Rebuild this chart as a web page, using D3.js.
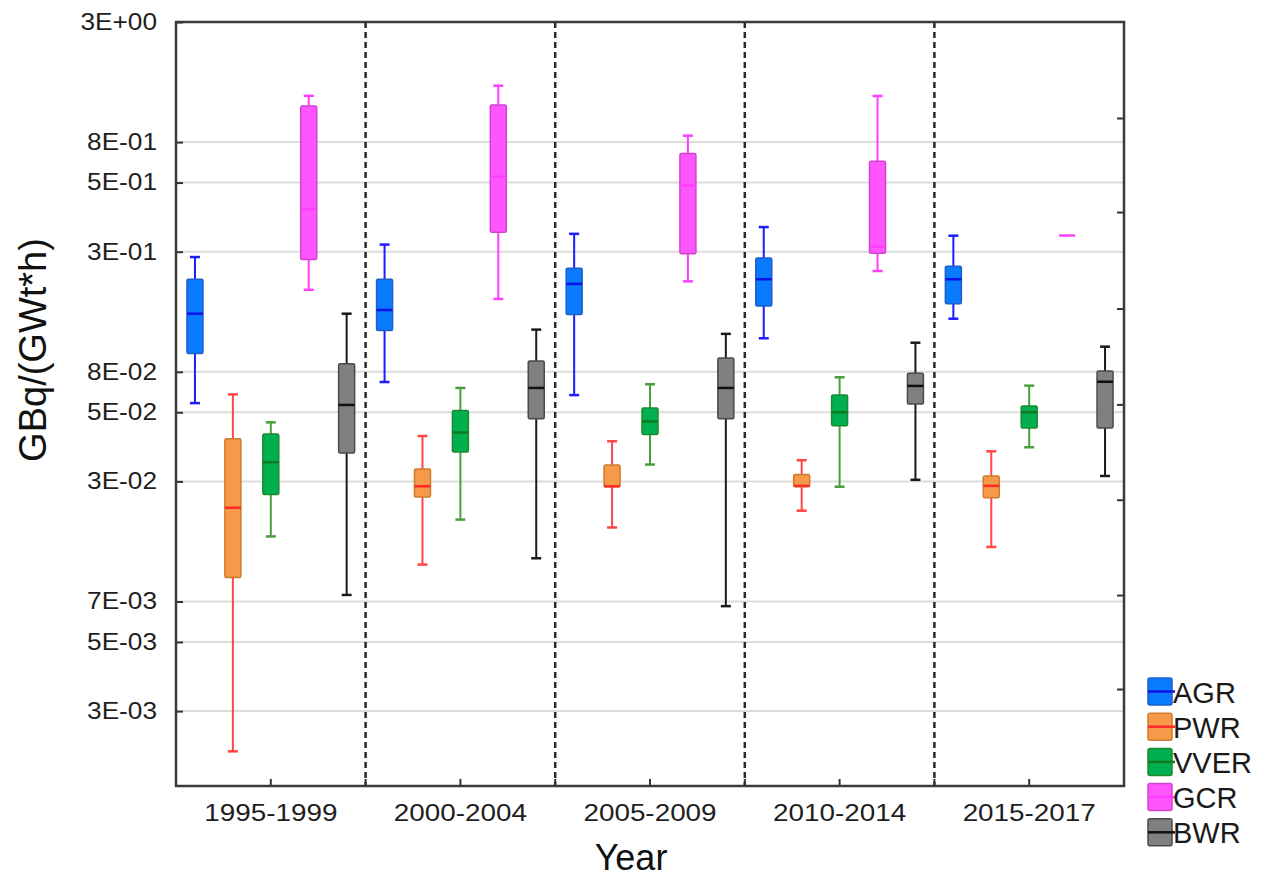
<!DOCTYPE html>
<html><head><meta charset="utf-8">
<script src="https://cdn.jsdelivr.net/npm/d3@7"></script>
<style>body{margin:0;background:#fff}svg{display:block}</style>
</head><body><svg id="c" width="1263" height="881"></svg>
<script>
// ---------- data ----------
const periods = ["1995-1999","2000-2004","2005-2009","2010-2014","2015-2017"];
const reactors = ["AGR","PWR","VVER","GCR","BWR"];
// each entry: [whiskerLow, q1, median, q3, whiskerHigh]  (GBq/(GWt*h))
const agrStats  = [[0.0548,0.0900,0.1343,0.1896,0.237],[0.0677,0.1136,0.1393,0.1896,0.2685],[0.0594,0.1331,0.1811,0.2119,0.299],[0.1050,0.1450,0.1896,0.2347,0.320],[0.1277,0.1484,0.1896,0.216,0.2935]];
const pwrStats  = [[0.00167,0.00955,0.0192,0.0383,0.0598],[0.01086,0.0214,0.0238,0.0283,0.0394],[0.01575,0.0237,0.0238,0.0295,0.0374],[0.01864,0.0237,0.0239,0.0268,0.0309],[0.01296,0.0212,0.0239,0.0264,0.0338]];
const vverStats = [[0.0144,0.0219,0.0303,0.0402,0.0452],[0.01705,0.0336,0.0408,0.0509,0.0638],[0.0296,0.0400,0.0456,0.0522,0.0662],[0.0237,0.0437,0.0500,0.0594,0.0710],[0.0352,0.0427,0.0500,0.0532,0.0653]];
const gcrStats  = [[0.1706,0.231,0.383,1.078,1.193],[0.1557,0.304,0.530,1.088,1.320],[0.1857,0.245,0.485,0.669,0.800],[0.206,0.246,0.263,0.619,1.191],[0.294,0.294,0.294,0.294,0.294]];
const bwrStats  = [[0.00801,0.0332,0.0538,0.0814,0.1343],[0.01157,0.0468,0.0638,0.0835,0.1145],[0.00716,0.0468,0.0638,0.0862,0.1097],[0.0254,0.0543,0.0651,0.0739,0.1004],[0.0264,0.0427,0.0679,0.0756,0.0965]];
const yTickValues = [2.5,0.75,0.5,0.25,0.075,0.05,0.025,0.0075,0.005,0.0025];
const yTickLabels = ["3E+00","8E-01","5E-01","3E-01","8E-02","5E-02","3E-02","7E-03","5E-03","3E-03"];
const rightTickValues = [0.955,0.372,0.1414,0.0541,0.0208,0.0080,0.00312];
const yDomain = [0.00118, 2.5];
const xTitle = "Year";
const yTitle = "GBq/(GWt*h)";

// ---------- styles ----------
const colors = {
  AGR:  {fill:"#0a7bff", stroke:"#1f5fc8", whisk:"#1c1cff", med:"#1010e8"},
  PWR:  {fill:"#f69a4a", stroke:"#cf7a2e", whisk:"#ff4545", med:"#ff2a2a"},
  VVER: {fill:"#00b050", stroke:"#1d8a2e", whisk:"#4a9e3e", med:"#107a22"},
  GCR:  {fill:"#ff55ff", stroke:"#d043d0", whisk:"#ff3dff", med:"#ff3dff"},
  BWR:  {fill:"#808080", stroke:"#4a4a4a", whisk:"#1a1a1a", med:"#111111"}
};
const FONT = "'Liberation Sans', Arial, sans-serif";
const L = 176, R = 1124, T = 22, B = 786;

const statsByReactor = {AGR:agrStats, PWR:pwrStats, VVER:vverStats, GCR:gcrStats, BWR:bwrStats};
const rows = [];
reactors.forEach(r => periods.forEach((p,i) => {
  const s = statsByReactor[r][i];
  rows.push({reactor:r, period:p, lo:s[0], q1:s[1], med:s[2], q3:s[3], hi:s[4]});
}));

const svg = d3.select("#c");
const x = d3.scaleBand().domain(periods).range([L,R]).padding(0);
const xi = d3.scaleBand().domain(reactors).range([0, x.bandwidth()]).padding(0);
const y = d3.scaleLog().domain(yDomain).range([B,T]);

// grid lines
svg.append("g").selectAll("line").data(yTickValues).join("line")
  .attr("x1",L).attr("x2",R).attr("y1",d=>y(d)).attr("y2",d=>y(d))
  .attr("stroke","#dcdcdc").attr("stroke-width",2);

// dashed separators
svg.append("g").selectAll("line").data(periods.slice(1)).join("line")
  .attr("x1",d=>x(d)).attr("x2",d=>x(d)).attr("y1",T).attr("y2",B)
  .attr("stroke","#2a2a2a").attr("stroke-width",2.5).attr("stroke-dasharray","6,4");

// left axis
const gL = svg.append("g").attr("transform",`translate(${L},0)`)
  .call(d3.axisLeft(y).tickValues(yTickValues).tickFormat((d,i)=>yTickLabels[i]).tickSize(-7).tickPadding(19));
gL.select(".domain").remove();
gL.selectAll(".tick line").attr("stroke","#333").attr("stroke-width",2);
gL.selectAll("text").attr("font-family",FONT).attr("font-size",23).attr("fill","#1e1e1e");

// right axis ticks
const gR = svg.append("g").attr("transform",`translate(${R},0)`)
  .call(d3.axisLeft(y).tickValues(rightTickValues).tickFormat("").tickSize(7));
gR.select(".domain").remove();
gR.selectAll(".tick line").attr("stroke","#333").attr("stroke-width",2);

// bottom axis (labels + centre ticks)
const gB = svg.append("g").attr("transform",`translate(0,${B})`)
  .call(d3.axisBottom(x).tickSize(-7).tickPadding(18));
gB.select(".domain").remove();
gB.selectAll(".tick line").attr("stroke","#333").attr("stroke-width",2);
gB.selectAll("text").attr("font-family",FONT).attr("font-size",24).attr("fill","#1e1e1e");
// boundary ticks
svg.append("g").selectAll("line").data(periods.slice(1)).join("line")
  .attr("x1",d=>x(d)).attr("x2",d=>x(d)).attr("y1",B).attr("y2",B-7)
  .attr("stroke","#333").attr("stroke-width",2);

// boxes
const bw = 16, cap = 10;
const g = svg.append("g");
rows.forEach(d => {
  const c = colors[d.reactor];
  const cx = x(d.period) + xi(d.reactor) + xi.bandwidth()/2;
  const gg = g.append("g");
  gg.append("line").attr("x1",cx).attr("x2",cx).attr("y1",y(d.hi)).attr("y2",y(d.q3)).attr("stroke",c.whisk).attr("stroke-width",2);
  gg.append("line").attr("x1",cx).attr("x2",cx).attr("y1",y(d.q1)).attr("y2",y(d.lo)).attr("stroke",c.whisk).attr("stroke-width",2);
  if (d.hi !== d.q3) gg.append("line").attr("x1",cx-cap/2).attr("x2",cx+cap/2).attr("y1",y(d.hi)).attr("y2",y(d.hi)).attr("stroke",c.whisk).attr("stroke-width",2.5);
  if (d.lo !== d.q1) gg.append("line").attr("x1",cx-cap/2).attr("x2",cx+cap/2).attr("y1",y(d.lo)).attr("y2",y(d.lo)).attr("stroke",c.whisk).attr("stroke-width",2.5);
  if (d.q3 !== d.q1) gg.append("rect").attr("x",cx-bw/2).attr("y",y(d.q3)).attr("width",bw).attr("height",y(d.q1)-y(d.q3))
    .attr("fill",c.fill).attr("stroke",c.stroke).attr("stroke-width",1.5).attr("rx",1.5);
  gg.append("line").attr("x1",cx-bw/2).attr("x2",cx+bw/2).attr("y1",y(d.med)).attr("y2",y(d.med)).attr("stroke",c.med).attr("stroke-width",2.5);
});

// frame
svg.append("rect").attr("x",L).attr("y",T).attr("width",R-L).attr("height",B-T)
  .attr("fill","none").attr("stroke","#3a3a3a").attr("stroke-width",2.5);

// titles
svg.append("text").attr("x",631).attr("y",870).attr("text-anchor","middle")
  .attr("font-family",FONT).attr("font-size",36).attr("fill","#111").text(xTitle);
svg.append("text").attr("transform","translate(46,350) rotate(-90)").attr("text-anchor","middle")
  .attr("font-family",FONT).attr("font-size",38).attr("fill","#111").text(yTitle);

// legend
const lg = svg.append("g").selectAll("g").data(reactors).join("g")
  .attr("transform",(d,i)=>`translate(1148,${678 + i*35.2})`);
lg.append("rect").attr("width",24).attr("height",27).attr("rx",2)
  .attr("fill",d=>colors[d].fill).attr("stroke",d=>colors[d].stroke).attr("stroke-width",1.5);
lg.append("line").attr("x1",0).attr("x2",27).attr("y1",13.5).attr("y2",13.5)
  .attr("stroke",d=>colors[d].med).attr("stroke-width",2.5);
lg.append("text").attr("x",25).attr("y",24.5).attr("font-family",FONT).attr("font-size",29)
  .attr("fill","#1a1a1a").text(d=>d);

// slight horizontal stretch of tick labels to mimic the original rendering
function stretch(sel, k){ sel.each(function(){ const w=this.getComputedTextLength(); d3.select(this).attr("textLength",w*k).attr("lengthAdjust","spacingAndGlyphs"); }); }
stretch(gL.selectAll("text"), 1.14);
stretch(gB.selectAll("text"), 1.16);
</script></body></html>
